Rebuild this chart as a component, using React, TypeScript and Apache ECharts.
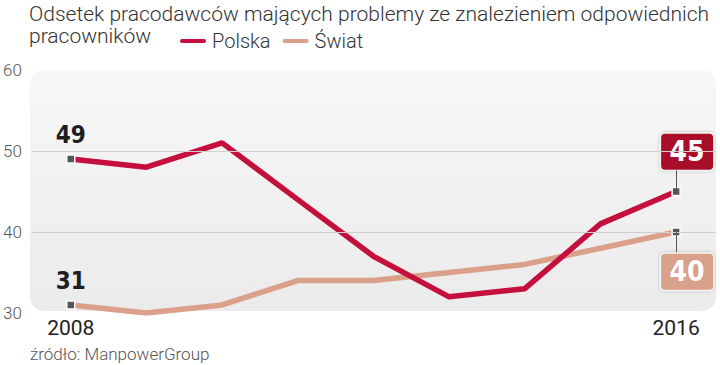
import React, { useEffect, useRef } from "react";
import * as echarts from "echarts";

const years = [2008, 2009, 2010, 2011, 2012, 2013, 2014, 2015, 2016];
const polska = [49, 48, 51, 44, 37, 32, 33, 41, 45];
const swiat = [31, 30, 31, 34, 34, 35, 36, 38, 40];
const yTicks = [30, 40, 50, 60];
const gridValues = [40, 50];
const xTickLabels = [2008, 2016];
const titleText = "Odsetek pracodawców mających problemy ze znalezieniem odpowiednich\npracowników";
const sourceText = "źródło: ManpowerGroup";

const RED = "#c50f3c";
const SALMON = "#dba08a";
const BOX_RED = "#a8102c";
const BOX_SALMON = "#d9a08a";
const NARROW = "'DejaVu Sans Condensed', 'Liberation Sans Narrow', sans-serif";
const LIGHT = "Roboto, 'Noto Sans', sans-serif";

function buildData(vals: number[], firstLabel: any, lastLabel: any) {
  return vals.map((v, i) => {
    const item: any = { value: [years[i], v] };
    if (i === 0 || i === vals.length - 1) {
      item.symbol = "rect";
      item.symbolSize = 8;
      item.label = i === 0 ? firstLabel : lastLabel;
    }
    return item;
  });
}

const firstLabelStyle = {
  show: true,
  position: "top",
  distance: 7,
  fontFamily: NARROW,
  fontWeight: "bold",
  fontSize: 24,
  color: "#1e1e1e",
};

function boxLabel(pos: string, bg: string) {
  return {
    show: true,
    position: pos,
    distance: 17,
    offset: [11, 0],
    fontFamily: NARROW,
    fontWeight: "bold",
    fontSize: 28,
    color: "#ffffff",
    backgroundColor: bg,
    borderColor: "#f4f4f4",
    borderWidth: 1.5,
    borderRadius: 4,
    width: 52,
    height: 36,
    lineHeight: 36,
    align: "center",
    shadowColor: "rgba(0,0,0,0.25)",
    shadowBlur: 3,
  };
}

export default function App() {
  const ref = useRef<HTMLDivElement>(null);
  useEffect(() => {
    if (!ref.current) return;
    const chart = echarts.init(ref.current, null, { renderer: "svg" });
    const last = years[years.length - 1];
    chart.setOption({
      animation: false,
      title: {
        text: titleText,
        left: 29,
        top: 3,
        padding: 0,
        textStyle: {
          fontFamily: LIGHT,
          fontWeight: 300,
          fontSize: 21,
          lineHeight: 22,
          color: "#333",
        },
      },
      legend: {
        left: 178,
        top: 31,
        padding: 0,
        itemWidth: 28,
        itemHeight: 6,
        itemGap: 10,
        icon: "path://M3,0 H25 A3,3 0 0 1 25,6 H3 A3,3 0 0 1 3,0 Z",
        textStyle: { fontFamily: LIGHT, fontWeight: 300, fontSize: 20, color: "#333" },
        data: [
          { name: "Polska", itemStyle: { color: RED } },
          { name: "Świat", itemStyle: { color: SALMON } },
        ],
      },
      graphic: [
        {
          type: "rect",
          z: -10,
          shape: { x: 30, y: 70, width: 686, height: 241, r: 14 },
          style: {
            fill: new echarts.graphic.LinearGradient(0, 0, 0, 1, [
              { offset: 0, color: "#f7f7f7" },
              { offset: 1, color: "#ebebeb" },
            ]),
          },
        },
        {
          type: "text",
          left: 30,
          top: 345,
          style: { text: sourceText, fontFamily: LIGHT, fontWeight: 300, fontSize: 17, fill: "#555" },
        },
      ],
      grid: { left: 30, right: 4, top: 70, bottom: 52 },
      xAxis: {
        type: "value",
        min: 2007.486,
        max: 2016.527,
        axisLine: { show: false },
        axisTick: { show: false },
        splitLine: { show: false },
        axisLabel: {
          customValues: xTickLabels,
          margin: 4,
          fontFamily: LIGHT,
          fontSize: 21,
          color: "#222",
          formatter: (v: number) => String(v),
        },
      },
      yAxis: {
        type: "value",
        min: 30,
        max: 60,
        interval: 10,
        axisLine: { show: false },
        axisTick: { show: false },
        splitLine: { show: false },
        axisLabel: {
          customValues: yTicks,
          margin: 10,
          padding: [5, 0, 0, 0],
          fontFamily: LIGHT,
          fontWeight: 300,
          fontSize: 17,
          color: "#555",
        },
      },
      series: [
        {
          name: "grid",
          type: "line",
          silent: true,
          data: [],
          markLine: {
            silent: true,
            symbol: "none",
            label: { show: false },
            lineStyle: { color: "#cfcfcf", width: 1, type: "solid" },
            data: gridValues.map((v) => ({ yAxis: v })),
          },
          z: 1,
        },
        {
          name: "connectors",
          type: "line",
          silent: true,
          data: [],
          markLine: {
            silent: true,
            symbol: "none",
            label: { show: false },
            lineStyle: { color: "#555", width: 1, type: "solid" },
            data: [
              [{ coord: [last, polska[polska.length - 1]] }, { coord: [last, 47.6] }],
              [{ coord: [last, swiat[swiat.length - 1]] }, { coord: [last, 37.5] }],
            ],
          },
          z: 2,
        },
        {
          name: "Świat",
          type: "line",
          symbol: "none",
          color: SALMON,
          lineStyle: { width: 5.5, color: SALMON },
          itemStyle: { color: "#555", borderColor: "#fff", borderWidth: 1.5 },
          data: buildData(swiat, firstLabelStyle, boxLabel("bottom", BOX_SALMON)),
          z: 3,
        },
        {
          name: "Polska",
          type: "line",
          symbol: "none",
          color: RED,
          lineStyle: { width: 5.5, color: RED },
          itemStyle: { color: "#555", borderColor: "#fff", borderWidth: 1.5 },
          data: buildData(polska, firstLabelStyle, boxLabel("top", BOX_RED)),
          z: 4,
        },
      ],
    });
    return () => chart.dispose();
  }, []);
  return <div ref={ref} style={{ width: 720, height: 365, position: "absolute", left: 0, top: 0 }} />;
}
